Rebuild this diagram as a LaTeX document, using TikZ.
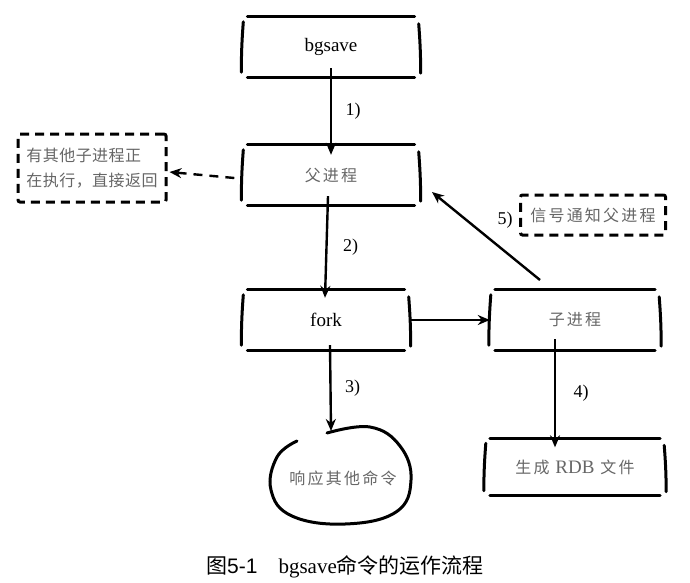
\documentclass[tikz,border=0pt]{standalone}
\usepackage{fontspec}
\setmainfont{Liberation Serif}
\newfontfamily\cjk[LetterSpace=14]{Noto Sans CJK SC}
\newfontfamily\cjktight[LetterSpace=3]{Noto Sans CJK SC}
\newfontfamily\cjkcap{Noto Sans CJK SC}
\newfontfamily\capsans{Liberation Sans}
\usetikzlibrary{arrows.meta}
\begin{document}
\begin{tikzpicture}[x=1pt,y=-1pt,
  skbox/.style={minimum width=#1, minimum height=58pt, inner sep=0pt},
  skline/.style={line width=3pt, line cap=round},
  dbox/.style={draw, line width=3pt, dash pattern=on 9pt off 6pt, rounded corners=2pt, inner sep=0pt},
  arr/.style={line width=2.4pt, -{Stealth[length=12pt,width=10pt]}},
  ctext/.style={font=\cjk\fontsize{16}{19}\selectfont, text=black!60},
  lbl/.style={font=\fontsize{18}{20}\selectfont}
]
\useasboundingbox (0,0) rectangle (690,582);
% main boxes
\node[skbox=177pt, font=\fontsize{19}{22}\selectfont] (bg) at (331,47) {bgsave};
\node[skbox=177pt, ctext] (par) at (331,175) {父进程};
\node[skbox=167pt, font=\fontsize{19}{22}\selectfont] (fork) at (326,320) {fork};
\node[skbox=170pt, ctext] (child) at (575,320) {子进程};
\node[skbox=180pt, minimum height=55pt, ctext] (rdb) at (575,467) {生成 {\fontspec{Liberation Serif}\fontsize{19}{22}\selectfont RDB} 文件};
\foreach \n in {bg,par,fork,child,rdb} {
  \draw[skline] ([xshift=5pt,yshift=1pt]\n.north west) -- ([xshift=-5pt,yshift=1pt]\n.north east);
  \draw[skline] ([xshift=5pt,yshift=-1pt]\n.south west) -- ([xshift=-5pt,yshift=-1pt]\n.south east);
  \draw[skline] ([xshift=1pt,yshift=-4pt]\n.north west) to[bend right=2] ([xshift=-1pt,yshift=4pt]\n.south west);
  \draw[skline] ([xshift=-1pt,yshift=-6pt]\n.north east) to[bend left=2] ([xshift=1pt,yshift=3pt]\n.south east);
}
% dashed boxes
\node[dbox, minimum width=148pt, minimum height=68pt] (busy) at (92,168) {};
\node[text=black!60, align=left, font=\cjktight\fontsize{16}{25}\selectfont] (busytext) at (busy.center) {有其他子进程正\\在执行，直接返回};
\node[dbox, minimum width=145pt, minimum height=40pt] (sig) at (593,215) {};
\node[text=black!60, font=\cjk\fontsize{16}{19}\selectfont] (sigtext) at (sig.center) {信号通知父进程};
% response loop
\coordinate (resp) at (340,475);
\draw[line width=3pt, line cap=round] plot[smooth, tension=0.7] coordinates {(327,433) (370,427) (400,446) (411,480) (396,512) (345,524) (292,516) (271,490) (277,457) (297,441)};
\node[ctext] (resptext) at (343,478) {响应其他命令};
% arrows
\draw[arr] ([yshift=8pt]bg.south) -- node[lbl, right=10pt] {1)} ([yshift=-9pt]par.north);
\draw[arr, dash pattern=on 9pt off 7pt] ([xshift=-8pt,yshift=-3pt]par.west) -- ([xshift=2pt]busy.east |- 0,172);
\draw[arr] ([xshift=-3pt,yshift=8pt]par.south) -- node[lbl, right=12pt] {2)} ([xshift=-1pt,yshift=-7pt]fork.north);
\draw[arr] (fork.east) -- (child.west);
\draw[arr] ([xshift=4pt,yshift=4pt]fork.south) -- node[lbl, right=10pt] {3)} (331,431);
\draw[arr] ([xshift=-20pt,yshift=10pt]child.south) -- node[lbl, right=14pt] {4)} ([xshift=-20pt,yshift=-8pt]rdb.north);
\draw[arr] (540,280) -- (432,192);
\node[lbl] (l5) at (505,220) {5)};
% caption
\node[font=\fontsize{21}{24}\selectfont] (cap) at (345,567) {{\cjkcap 图}{\capsans 5-1}\quad bgsave{\cjkcap 命令的运作流程}};
\end{tikzpicture}
\end{document}
